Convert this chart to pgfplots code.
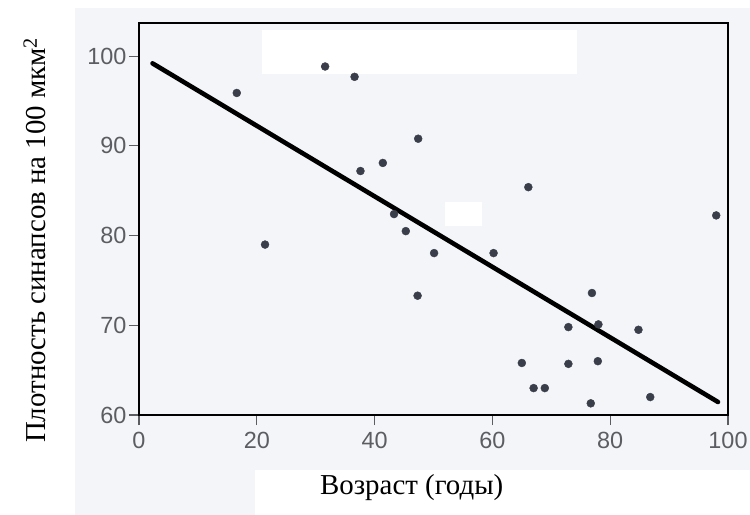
\documentclass[border=0pt]{standalone}
\usepackage{fontspec}
\setmainfont{Liberation Serif}
\setsansfont{Liberation Sans}
\usepackage{pgfplots}
\pgfplotsset{compat=1.18}

\definecolor{bg}{RGB}{243,245,248}
\definecolor{ticktext}{RGB}{92,93,98}
\definecolor{dots}{RGB}{58,62,74}

\pgfplotstableread{
age dens
16.6 95.9
21.4 79.0
31.6 98.85
36.6 97.7
37.6 87.2
41.4 88.1
43.3 82.4
45.3 80.5
47.4 90.8
47.3 73.3
50.1 78.05
60.2 78.05
66.1 85.4
65.0 65.8
67.0 63.0
68.9 63.0
72.9 69.8
72.9 65.7
76.9 73.6
78.0 70.1
77.9 66.0
76.7 61.3
84.8 69.5
86.8 62.0
98.0 82.25
}\points

\begin{document}
\begin{tikzpicture}
\path[use as bounding box] (-139bp,-100bp) rectangle (611bp,415bp);
% light scanned-paper background
\fill[bg] (-64bp,-55bp) rectangle (611bp,407bp);
\fill[bg] (-64bp,-100bp) rectangle (116bp,-55bp);
\begin{axis}[
    scale only axis,
    width=589bp, height=392bp,
    xmin=0, xmax=100,
    ymin=60, ymax=103.7,
    xtick={0,20,...,100},
    ytick={60,70,...,100},
    xtick pos=bottom, ytick pos=left,
    tick align=outside,
    major tick length=10bp,
    tick style={ticktext, line width=1.1pt},
    axis line style={black, line width=2.8bp},
    /pgf/number format/assume math mode=true,
    ticklabel style={font=\fontsize{23.5}{26}\selectfont\sffamily, text=ticktext},
    xticklabel style={yshift=-4bp},
    yticklabel style={xshift=1bp},
    xlabel={Возраст (годы)},
    ylabel={Плотность синапсов на 100 мкм\textsuperscript{2}},
    label style={font=\fontsize{29}{32}\selectfont},
    xlabel style={at={(axis description cs:0.463,-0.184)}, anchor=center},
    ylabel style={at={(axis description cs:-0.177,0.446)}, anchor=center},
    clip=false,
]
\fill[white] (axis cs:20.8,102.9) rectangle (axis cs:74.3,98.0);
\fill[white] (axis cs:52.0,83.7) rectangle (axis cs:58.3,81.1);
\addplot[black, line width=4.6bp, line cap=round] coordinates {(2.3,99.2) (98.3,61.45)};
\addplot[only marks, mark=*, mark size=4pt, mark options={fill=dots, draw=dots}] table[x=age, y=dens] {\points};
\end{axis}
\end{tikzpicture}
\end{document}
